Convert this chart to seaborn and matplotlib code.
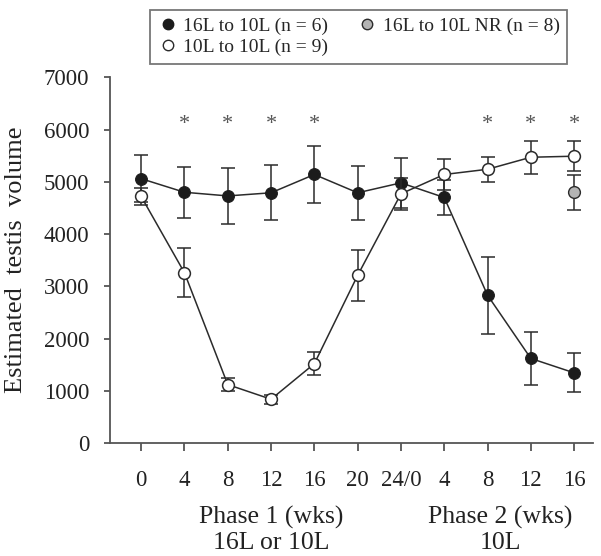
import matplotlib
matplotlib.use("Agg")
import matplotlib.pyplot as plt
from matplotlib.lines import Line2D
import seaborn as sns

# x positions are just the slots 0..10, labelled like the figure
tick_labels = ["0", "4", "8", "12", "16", "20", "24/0", "4", "8", "12", "16"]
weeks = list(range(len(tick_labels)))

# 16L to 10L (n = 6)
long_mean = [5060, 4800, 4730, 4790, 5140, 4790, 4980, 4700, 2830, 1620, 1345]
long_sem = [450, 490, 530, 530, 550, 520, 480, 340, 740, 500, 370]

# 10L to 10L (n = 9)
short_mean = [4720, 3260, 1120, 840, 1520, 3210, 4770, 5140, 5240, 5470, 5490]
short_sem = [170, 470, 120, 90, 220, 490, 300, 290, 240, 320, 290]

# 16L to 10L NR (n = 8), only measured at the end
nr_week = [10]
nr_mean = [4800]
nr_sem = [330]

# significant differences
star_weeks = [1, 2, 3, 4, 8, 9, 10]

labels = ["16L to 10L (n = 6)", "10L to 10L (n = 9)", "16L to 10L NR (n = 8)"]

sns.set_style("ticks")
plt.rcParams['font.family'] = ['Liberation Serif', 'DejaVu Serif']

ink = "#2b2b2b"
axis_col = "#555555"
grey_fill = "#b4b4b4"

fig = plt.figure(figsize=(6.01, 5.56), dpi=100)
ax = fig.add_axes([0.183, 0.203, 0.804, 0.658])

# filled series
ax.errorbar(weeks, long_mean, yerr=long_sem, fmt='none', ecolor=ink,
            elinewidth=1.1, capsize=4.7, capthick=1.1, zorder=2)
sns.lineplot(x=weeks, y=long_mean, ax=ax, color=ink, lw=1.1, marker='o',
             markersize=8.5, markerfacecolor="#1c1c1c", markeredgecolor="#1c1c1c",
             errorbar=None, zorder=3)

# open series on top
ax.errorbar(weeks, short_mean, yerr=short_sem, fmt='none', ecolor=ink,
            elinewidth=1.1, capsize=4.7, capthick=1.1, zorder=4)
sns.lineplot(x=weeks, y=short_mean, ax=ax, color=ink, lw=1.1, marker='o',
             markersize=8.5, markerfacecolor="white", markeredgecolor=ink,
             markeredgewidth=1.1, errorbar=None, zorder=5)

# NR group
ax.errorbar(nr_week, nr_mean, yerr=nr_sem, fmt='none', ecolor=ink,
            elinewidth=1.1, capsize=4.7, capthick=1.1, zorder=4)
sns.scatterplot(x=nr_week, y=nr_mean, ax=ax, s=72, color=grey_fill,
                edgecolor=ink, linewidth=1.0, zorder=6)

for w in star_weeks:
    ax.text(w, 6020, "*", ha='center', va='baseline', fontsize=16, color=axis_col)

ax.set_xlim(-0.72, 10.44)
ax.set_ylim(0, 7000)
ax.set_xticks(weeks)
ax.set_xticklabels(tick_labels)
ax.set_yticks(range(0, 7001, 1000))
ax.set_ylabel("Estimated  testis  volume", fontsize=19, labelpad=12, color="#222222")

sns.despine(ax=ax)
for side in ["left", "bottom"]:
    ax.spines[side].set_color(axis_col)
    ax.spines[side].set_linewidth(1.3)
ax.tick_params(axis='x', direction='out', length=6, width=1.3, color=axis_col,
               labelsize=16.5, pad=13, labelcolor="#222222")
ax.tick_params(axis='y', direction='out', length=4, width=1.3, color=axis_col,
               labelsize=16.5, pad=11, labelcolor="#222222")

# phase captions under the axis
xt = ax.get_xaxis_transform()
cap = dict(transform=xt, ha='center', va='center', fontsize=18.5, color="#222222")
ax.text(3, -0.202, "Phase 1 (wks)", **cap)
ax.text(3, -0.272, "16L or 10L", **cap)
ax.text(8.3, -0.202, "Phase 2 (wks)", **cap)
ax.text(8.3, -0.272, "10L", **cap)

handles = [
    Line2D([], [], marker='o', linestyle='none', markersize=7.5,
           markerfacecolor="#1c1c1c", markeredgecolor="#1c1c1c"),
    Line2D([], [], marker='o', linestyle='none', markersize=7.5,
           markerfacecolor="white", markeredgecolor=ink),
    Line2D([], [], marker='o', linestyle='none', markersize=7.5,
           markerfacecolor=grey_fill, markeredgecolor=ink),
]
leg = fig.legend(handles, labels, ncol=2, loc='upper center',
                 bbox_to_anchor=(0.597, 1.0), frameon=True, fancybox=False,
                 edgecolor=axis_col, fontsize=14, handletextpad=0.3,
                 columnspacing=1.5, borderpad=0.4, labelspacing=0.15,
                 handlelength=1.0)
leg.get_frame().set_linewidth(1.3)

fig.savefig("out.png", dpi=100)
